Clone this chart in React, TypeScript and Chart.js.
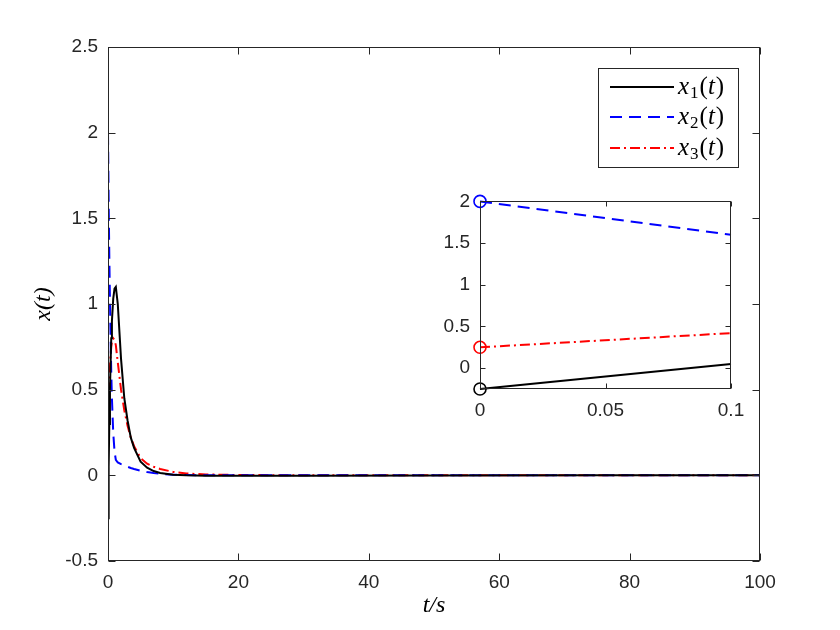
import React, { useEffect, useRef } from "react";
import { Chart, registerables } from "chart.js";
Chart.register(...registerables);

// ---- data ----
const timeS = [0, 0.1, 0.2, 0.3, 0.4, 0.5, 0.6, 0.8, 1.0, 1.2, 1.5, 2, 2.5, 3, 3.5, 4, 5, 6, 7, 8, 10, 12, 15, 20, 30, 50, 75, 100];
const x1Values = [-0.25, 0.05, 0.3, 0.5, 0.66, 0.8, 0.9, 1.03, 1.09, 1.1, 1.0, 0.68, 0.45, 0.32, 0.22, 0.16, 0.08, 0.045, 0.025, 0.014, 0.004, 0.0, -0.003, -0.003, -0.002, -0.001, 0, 0];
const x2Values = [2.0, 1.6, 1.28, 1.02, 0.8, 0.6, 0.45, 0.25, 0.14, 0.09, 0.075, 0.065, 0.057, 0.05, 0.043, 0.037, 0.027, 0.019, 0.013, 0.009, 0.004, 0.002, 0.0, 0, 0, 0, 0, 0];
const x3Values = [0.25, 0.42, 0.54, 0.63, 0.7, 0.75, 0.78, 0.8, 0.79, 0.76, 0.66, 0.5, 0.38, 0.29, 0.22, 0.17, 0.1, 0.068, 0.05, 0.037, 0.02, 0.011, 0.005, 0.002, 0.0, 0, 0, 0];

const mainXTicks = [0, 20, 40, 60, 80, 100];
const mainXTickLabels = ["0", "20", "40", "60", "80", "100"];
const mainYTicks = [-0.5, 0, 0.5, 1, 1.5, 2, 2.5];
const mainYTickLabels = ["-0.5", "0", "0.5", "1", "1.5", "2", "2.5"];
const insetXTicks = [0, 0.05, 0.1];
const insetXTickLabels = ["0", "0.05", "0.1"];
const insetYTicks = [0, 0.5, 1, 1.5, 2];
const insetYTickLabels = ["0", "0.5", "1", "1.5", "2"];

const seriesSubscripts = ["1", "2", "3"];
const seriesColors = ["#000000", "#0000ff", "#ff0000"];
const seriesDashes: number[][] = [[], [12, 7], [10, 4, 2, 4]];
const seriesValues = [x1Values, x2Values, x3Values];

const AXIS_COLOR = "#262626";
const TICK_FONT = { family: "'Liberation Sans', Arial, sans-serif", size: 19 };
const MATH_FAMILY = "'Liberation Serif', 'Times New Roman', serif";

function framePlugin(tickLen: number) {
  return {
    id: "frameTicks",
    beforeDraw(chart: any) {
      const { ctx, chartArea: a } = chart;
      ctx.save();
      ctx.fillStyle = "#ffffff";
      ctx.fillRect(a.left, a.top, a.right - a.left, a.bottom - a.top);
      ctx.restore();
    },
    afterDraw(chart: any) {
      const { ctx, chartArea: a, scales } = chart;
      ctx.save();
      ctx.strokeStyle = AXIS_COLOR;
      ctx.lineWidth = 1;
      ctx.setLineDash([]);
      const L = Math.round(a.left) + 0.5;
      const R = Math.round(a.right) - 0.5;
      const T = Math.round(a.top) + 0.5;
      const B = Math.round(a.bottom) - 0.5;
      ctx.strokeRect(L, T, R - L, B - T);
      ctx.beginPath();
      for (const t of scales.x.ticks) {
        const px = Math.round(scales.x.getPixelForValue(t.value)) + 0.5;
        ctx.moveTo(px, B);
        ctx.lineTo(px, B - tickLen);
        ctx.moveTo(px, T);
        ctx.lineTo(px, T + tickLen);
      }
      for (const t of scales.y.ticks) {
        const py = Math.round(scales.y.getPixelForValue(t.value)) + 0.5;
        ctx.moveTo(L, py);
        ctx.lineTo(L + tickLen, py);
        ctx.moveTo(R, py);
        ctx.lineTo(R - tickLen, py);
      }
      ctx.stroke();
      ctx.restore();
    },
  };
}

function drawMathLabel(ctx: CanvasRenderingContext2D, sub: string, x: number, y: number) {
  ctx.save();
  ctx.fillStyle = "#000000";
  ctx.textBaseline = "alphabetic";
  ctx.textAlign = "left";
  ctx.font = `italic 25px ${MATH_FAMILY}`;
  ctx.fillText("x", x, y);
  let cx = x + ctx.measureText("x").width + 1;
  ctx.font = `17px ${MATH_FAMILY}`;
  ctx.fillText(sub, cx, y + 4);
  cx += ctx.measureText(sub).width + 1;
  ctx.font = `25px ${MATH_FAMILY}`;
  ctx.fillText("(", cx, y);
  cx += ctx.measureText("(").width;
  ctx.font = `italic 25px ${MATH_FAMILY}`;
  ctx.fillText("t", cx, y);
  cx += ctx.measureText("t").width + 1;
  ctx.font = `25px ${MATH_FAMILY}`;
  ctx.fillText(")", cx, y);
  ctx.restore();
}

const legendPlugin = {
  id: "insideLegend",
  afterDraw(chart: any) {
    const { ctx } = chart;
    const bx = 598.5, by = 68.5, bw = 140, bh = 99;
    ctx.save();
    ctx.fillStyle = "#ffffff";
    ctx.fillRect(bx, by, bw, bh);
    ctx.strokeStyle = AXIS_COLOR;
    ctx.lineWidth = 1;
    ctx.strokeRect(bx, by, bw, bh);
    const rows = [87, 117, 148];
    rows.forEach((ry, i) => {
      ctx.strokeStyle = seriesColors[i];
      ctx.lineWidth = 2;
      ctx.setLineDash(seriesDashes[i]);
      ctx.beginPath();
      ctx.moveTo(610, ry);
      ctx.lineTo(674, ry);
      ctx.stroke();
      ctx.setLineDash([]);
      drawMathLabel(ctx, seriesSubscripts[i], 678, ry + 7);
    });
    ctx.restore();
  },
};

function makeDatasets(n: number | null, inset: boolean) {
  return seriesValues.map((vals, i) => {
    const count = n ?? vals.length;
    return {
      label: "x" + seriesSubscripts[i] + "(t)",
      data: timeS.slice(0, count).map((t, k) => ({ x: t, y: vals[k] })),
      borderColor: seriesColors[i],
      backgroundColor: "rgba(0,0,0,0)",
      borderWidth: 2,
      borderDash: seriesDashes[i],
      pointRadius: inset ? (ctx: any) => (ctx.dataIndex === 0 ? 6 : 0) : 0,
      pointBorderColor: seriesColors[i],
      pointBorderWidth: 1.6,
      pointBackgroundColor: "rgba(0,0,0,0)",
      pointHoverRadius: 0,
      tension: 0,
      clip: inset ? false : undefined,
    };
  });
}

const noSidePadding = (s: any) => {
  s.paddingLeft = 0;
  s.paddingRight = 0;
};

export default function App() {
  const mainRef = useRef<HTMLCanvasElement>(null);
  const insetRef = useRef<HTMLCanvasElement>(null);

  useEffect(() => {
    const main = new Chart(mainRef.current!, {
      type: "line",
      data: { datasets: makeDatasets(null, false) as any },
      options: {
        animation: false,
        responsive: false,
        devicePixelRatio: 1,
        events: [],
        layout: { padding: { left: 0, right: 80, top: 47, bottom: 0 } },
        plugins: { legend: { display: false }, tooltip: { enabled: false } },
        scales: {
          x: {
            type: "linear",
            min: 0,
            max: 100,
            grid: { display: false, drawTicks: false },
            border: { display: false },
            afterBuildTicks: (s: any) => { s.ticks = mainXTicks.map((v) => ({ value: v })); },
            afterFit: (s: any) => { s.height = 69; noSidePadding(s); },
            ticks: {
              font: TICK_FONT, color: AXIS_COLOR, padding: 10, maxRotation: 0, autoSkip: false,
              callback: (_v: any, i: number) => mainXTickLabels[i],
            },
            title: {
              display: true,
              text: "t/s",
              color: "#000000",
              font: { family: MATH_FAMILY, size: 24, style: "italic" },
              padding: { top: 0, bottom: 10 },
            },
          },
          y: {
            type: "linear",
            min: -0.5,
            max: 2.5,
            grid: { display: false, drawTicks: false },
            border: { display: false },
            afterBuildTicks: (s: any) => { s.ticks = mainYTicks.map((v) => ({ value: v })); },
            afterFit: (s: any) => { s.width = 108; },
            ticks: {
              font: TICK_FONT, color: AXIS_COLOR, padding: 10, autoSkip: false,
              callback: (_v: any, i: number) => mainYTickLabels[i],
            },
            title: {
              display: true,
              text: "x(t)",
              color: "#000000",
              font: { family: MATH_FAMILY, size: 24, style: "italic" },
              padding: { top: 29, bottom: 0 },
            },
          },
        },
      },
      plugins: [framePlugin(7), legendPlugin],
    });

    const inset = new Chart(insetRef.current!, {
      type: "line",
      data: { datasets: makeDatasets(2, true) as any },
      options: {
        animation: false,
        responsive: false,
        devicePixelRatio: 1,
        events: [],
        layout: { padding: { left: 0, right: 19, top: 20, bottom: 0 } },
        plugins: { legend: { display: false }, tooltip: { enabled: false } },
        scales: {
          x: {
            type: "linear",
            min: 0,
            max: 0.1,
            grid: { display: false, drawTicks: false },
            border: { display: false },
            afterBuildTicks: (s: any) => { s.ticks = insetXTicks.map((v) => ({ value: v })); },
            afterFit: (s: any) => { s.height = 41; noSidePadding(s); },
            ticks: {
              font: TICK_FONT,
              color: AXIS_COLOR,
              padding: 10,
              maxRotation: 0,
              autoSkip: false,
              callback: (_v: any, i: number) => insetXTickLabels[i],
            },
          },
          y: {
            type: "linear",
            min: -0.25,
            max: 2,
            grid: { display: false, drawTicks: false },
            border: { display: false },
            afterBuildTicks: (s: any) => { s.ticks = insetYTicks.map((v) => ({ value: v })); },
            afterFit: (s: any) => { s.width = 50; },
            ticks: {
              font: TICK_FONT,
              color: AXIS_COLOR,
              padding: 10,
              autoSkip: false,
              callback: (_v: any, i: number) => insetYTickLabels[i],
            },
          },
        },
      },
      plugins: [framePlugin(5)],
    });

    return () => {
      main.destroy();
      inset.destroy();
    };
  }, []);

  return (
    <div style={{ position: "fixed", left: 0, top: 0, width: 840, height: 630, background: "#ffffff" }}>
      <canvas ref={mainRef} width={840} height={630} style={{ position: "absolute", left: 0, top: 0, width: 840, height: 630 }} />
      <canvas ref={insetRef} width={320} height={250} style={{ position: "absolute", left: 430, top: 180, width: 320, height: 250 }} />
    </div>
  );
}
